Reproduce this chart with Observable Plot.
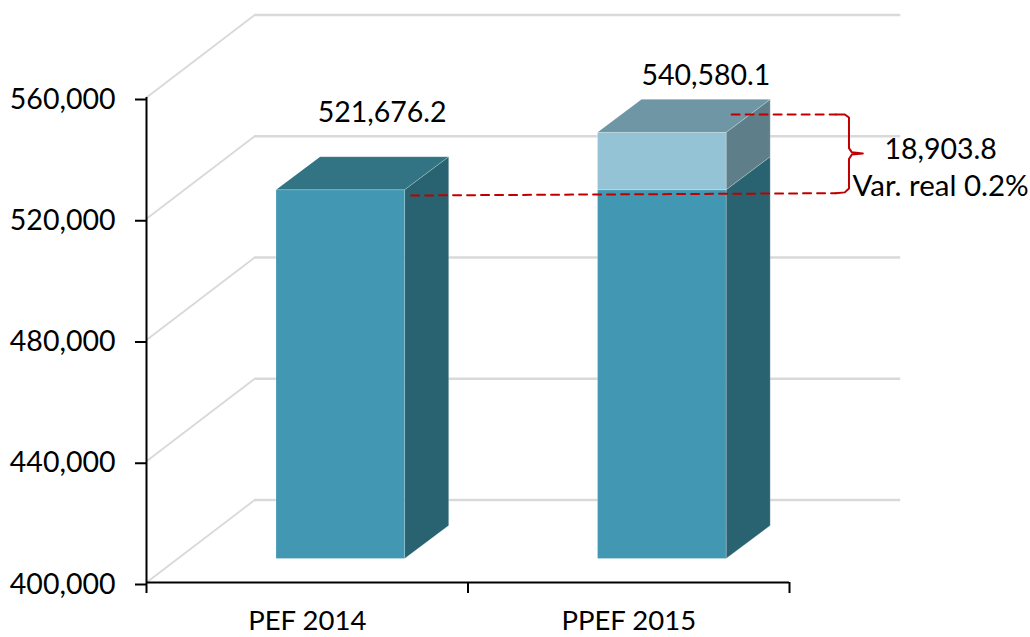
<!DOCTYPE html>
<html>
<head>
<meta charset="utf-8">
<style>
html,body{margin:0;padding:0;background:#fff}
svg{display:block}
</style>
<script src="https://cdn.jsdelivr.net/npm/d3@7"></script>
<script src="https://cdn.jsdelivr.net/npm/@observablehq/plot@0.6"></script>
</head>
<body>
<script>
// Data
const categories = ["PEF 2014", "PPEF 2015"];
const values = [521676.2, 540580.1];
const baseValues = [521676.2, 521676.2];
const valueLabels = ["521,676.2", "540,580.1"];
const yTicks = [400000, 440000, 480000, 520000, 560000];
const xTicks = [0, 1, 2];
const diffLabel = "18,903.8";
const realLabel = "Var. real 0.2%";

// Pseudo-3D geometry expressed in the units of the chart's scales
const floorX = 0.3364, floorY = 27200;      // depth of the chart floor
const liftY = 7918;                         // front face sits above the baseline
const barLeft = 0.403, barRight = 0.803;    // front face inside each category band
const barDepthX = 0.137, barDepthY = 10887; // depth of a bar
const wallEnd = 2.346;
const yMin = 400000;

const font = "Lato, Carlito, Calibri, sans-serif";
const fs = 28.5;

const C = {
  front: "#4297b2", side: "#296270", top: "#337484",
  lightFront: "#93c3d5", lightSide: "#5e7f89", lightTop: "#6f96a5",
  grid: "#d9d9d9", red: "#c00000"
};

// Polygon faces for the bars
const faces = [];
let faceId = 0;
function face(color, pts) {
  faceId++;
  pts.forEach(([x, y]) => faces.push({id: faceId, x, y, color}));
}
categories.forEach((c, i) => {
  const l = i + barLeft, r = i + barRight;
  const b = yMin + liftY, v = values[i] + liftY, base = baseValues[i] + liftY;
  const dX = barDepthX, dY = barDepthY;
  face(C.side, [[r, b], [r + dX, b + dY], [r + dX, base + dY], [r, base]]);
  face(C.front, [[l, b], [r, b], [r, base], [l, base]]);
  if (v > base) {
    face(C.lightSide, [[r, base], [r + dX, base + dY], [r + dX, v + dY], [r, v]]);
    face(C.lightFront, [[l, base], [r, base], [r, v], [l, v]]);
    face(C.lightTop, [[l, v], [r, v], [r + dX, v + dY], [l + dX, v + dY]]);
  } else {
    face(C.top, [[l, base], [r, base], [r + dX, base + dY], [l + dX, base + dY]]);
  }
});

// Annotation lines
const upperDash = [{x: 1.82, y: 554392}, {x: 2.144, y: 554392}];
const lowerDash = [{x: 0.823, y: 527670}, {x: 2.144, y: 528430}];
const braceX = 2.185, braceTipX = 2.228;
const brace = [
  [2.144, 554392], [2.172, 554392], [braceX, 553400], [braceX, 543300],
  [2.194, 541900], [braceTipX, 541526], [2.194, 541200], [braceX, 539700],
  [braceX, 530000], [2.172, 528700], [2.144, 528430]
].map(([x, y]) => ({x, y}));

const plot = Plot.plot({
  width: 1030, height: 637,
  marginLeft: 146, marginRight: 241, marginTop: 97, marginBottom: 55,
  style: {background: "#fff", fontFamily: font, overflow: "visible", color: "#000"},
  x: {domain: [0, 2], label: null},
  y: {domain: [400000, 560000], label: null},
  color: {type: "identity"},
  marks: [
    // Gridlines: side wall diagonals and back wall
    Plot.link(yTicks, {
      x1: () => 0, y1: d => d, x2: () => floorX, y2: d => d + floorY,
      stroke: C.grid, strokeWidth: 1.8
    }),
    Plot.ruleY(yTicks, {
      y: d => d + floorY, x1: floorX, x2: wallEnd, stroke: C.grid, strokeWidth: 2.4
    }),
    // Bars
    Plot.line(faces, {x: "x", y: "y", z: "id", fill: "color", stroke: "#fff", strokeOpacity: 0.22, strokeWidth: 1, curve: "linear-closed"}),
    // Variation annotation
    Plot.line(upperDash, {x: "x", y: "y", stroke: C.red, strokeWidth: 2, strokeDasharray: "8,6"}),
    Plot.line(lowerDash, {x: "x", y: "y", stroke: C.red, strokeWidth: 2, strokeDasharray: "8,6"}),
    Plot.line(brace, {x: "x", y: "y", stroke: C.red, strokeWidth: 2}),
    // Axes
    Plot.ruleX([0], {y1: yMin, y2: 560000, stroke: "#000", strokeWidth: 2}),
    Plot.ruleY([yMin], {x1: 0, x2: 2, stroke: "#000", strokeWidth: 2}),
    Plot.axisY({
      ticks: yTicks, tickFormat: d3.format(","), tickSize: 11, tickPadding: 20,
      fontSize: fs, dy: 2, stroke: "#000", strokeWidth: 2, fill: "#000", label: null
    }),
    Plot.axisX({
      ticks: xTicks, tickFormat: () => "", tickSize: 11, stroke: "#000", strokeWidth: 2, label: null
    }),
    // Category labels
    Plot.text(categories, {
      x: (d, i) => i + 0.5, y: () => yMin, text: d => d,
      dy: 39, fontSize: fs - 1, fill: "#000"
    }),
    // Value labels
    Plot.text(valueLabels.slice(0, 1), {
      x: () => 0.733, y: () => values[0], text: d => d, dy: -101, fontSize: fs, fill: "#000"
    }),
    Plot.text(valueLabels.slice(1), {
      x: () => 1.74, y: () => values[1], text: d => d, dy: -80, fontSize: fs, fill: "#000"
    }),
    // Variation labels
    Plot.text([diffLabel], {x: () => 2.47, y: () => 542845, text: d => d, fontSize: fs, fill: "#000"}),
    Plot.text([realLabel], {x: () => 2.47, y: () => 530639, text: d => d, fontSize: 29.5, fill: "#000"})
  ]
});
document.body.appendChild(plot);
</script>
</body>
</html>
